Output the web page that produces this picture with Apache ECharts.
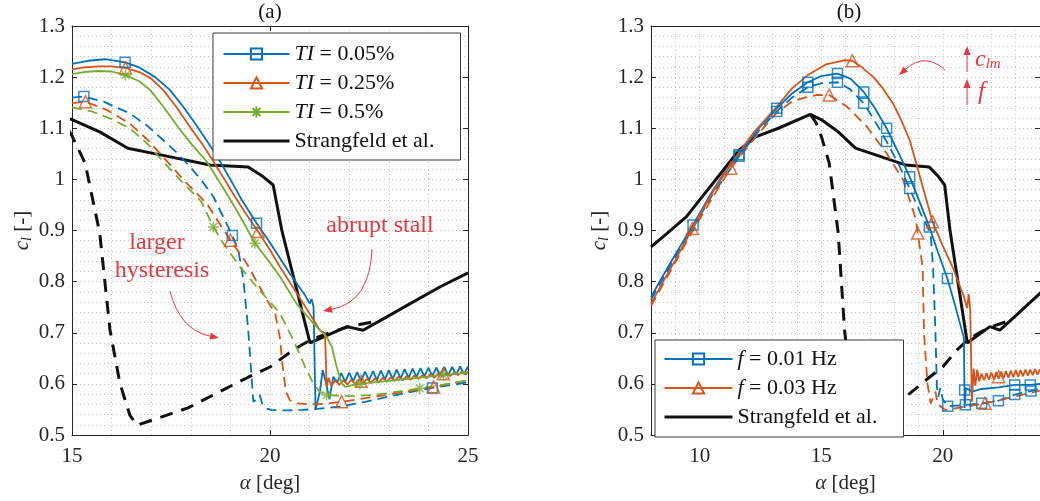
<!DOCTYPE html>
<html><head><meta charset="utf-8">
<script src="https://cdn.jsdelivr.net/npm/echarts@6/dist/echarts.min.js"></script>
<style>html,body{margin:0;padding:0;background:#fff}#c{width:1040px;height:501px}</style>
</head><body><div id="c"></div><script>
// ---------------- DATA ----------------
// axis ranges / ticks
const yRange = [0.5, 1.3], yStep = 0.1;
const xRangeA = [15, 25], xStepA = 5;
const xRangeB = [8, 24], xTicksB = [10, 15, 20];

// Panel (a): TI = 0.05 % (solid = increasing alpha, dashed = decreasing alpha)
const ti005Up = [[15,1.226],[15.4,1.232],[15.84,1.235],[16.34,1.229],[16.7,1.219],[17.1,1.2],[17.47,1.175],[17.8,1.143],[18.15,1.105],[18.45,1.07],[18.74,1.035],[19.0,1.0],[19.3,0.958],[19.66,0.914],[19.95,0.882],[20.2,0.852],[20.5,0.816],[20.88,0.774],[21.0,0.757],[21.05,0.766],[21.1,0.751],[21.15,0.549],[21.26,0.585],[21.33,0.627],[21.42,0.6],[21.5,0.57],[21.6,0.614],
[21.7,0.603],[21.8,0.621],[21.9,0.604],[22.0,0.622],[22.1,0.605],[22.2,0.623],[22.3,0.606],[22.4,0.624],[22.5,0.607],[22.6,0.625],[22.7,0.608],[22.8,0.626],[22.9,0.609],[23.0,0.627],[23.1,0.61],[23.2,0.628],[23.3,0.611],[23.4,0.629],[23.5,0.612],[23.6,0.63],[23.7,0.613],[23.8,0.631],[23.9,0.614],[24.0,0.632],[24.1,0.615],[24.2,0.632],[24.3,0.616],[24.4,0.633],[24.5,0.617],[24.6,0.633],[24.7,0.618],[24.8,0.634],[24.9,0.619],[25.0,0.634]];
const ti005Down = [[15,1.16],[15.3,1.162],[15.8,1.152],[16.46,1.129],[16.9,1.105],[17.3,1.077],[17.65,1.052],[17.98,1.025],[18.3,0.995],[18.57,0.966],[18.9,0.914],[19.05,0.89],[19.2,0.862],[19.33,0.803],[19.45,0.705],[19.54,0.608],[19.58,0.565],[19.66,0.57],[19.74,0.578],[19.8,0.562],[19.9,0.552],[20.04,0.549],[20.4,0.548],[20.8,0.549],[21.2,0.551],[21.8,0.556],[22.4,0.565],[23.0,0.575],[23.6,0.585],[24.1,0.592],[24.6,0.598],[25,0.603]];
// TI = 0.25 %
const ti025Up = [[15,1.215],[15.3,1.219],[15.67,1.221],[16.0,1.221],[16.35,1.218],[16.7,1.21],[17.0,1.197],[17.3,1.175],[17.65,1.14],[18.0,1.1],[18.3,1.068],[18.57,1.035],[18.85,1.0],[19.1,0.968],[19.4,0.932],[19.7,0.898],[20.0,0.862],[20.25,0.829],[20.68,0.777],[21.1,0.725],[21.26,0.705],[21.39,0.699],[21.43,0.594],[21.48,0.612],[21.55,0.596],[21.65,0.607],
[21.75,0.598],[21.85,0.607],[21.95,0.599],[22.05,0.608],[22.15,0.6],[22.25,0.609],[22.35,0.601],[22.45,0.61],[22.55,0.602],[22.65,0.611],[22.75,0.603],[22.85,0.612],[22.95,0.604],[23.05,0.613],[23.15,0.606],[23.25,0.614],[23.35,0.607],[23.45,0.615],[23.55,0.608],[23.65,0.616],[23.75,0.61],[23.85,0.617],[23.95,0.611],[24.05,0.619],[24.15,0.612],[24.25,0.62],[24.35,0.614],[24.45,0.622],[24.55,0.615],[24.65,0.623],[24.75,0.617],[24.85,0.624],[24.95,0.618],[25,0.625]];
const ti025Down = [[15,1.149],[15.34,1.152],[15.9,1.135],[16.46,1.109],[16.9,1.078],[17.3,1.044],[17.6,1.018],[17.9,0.992],[18.4,0.953],[18.78,0.907],[19.0,0.881],[19.41,0.836],[19.92,0.764],[20.13,0.738],[20.25,0.69],[20.32,0.634],[20.4,0.585],[20.5,0.568],[20.68,0.562],[21.0,0.56],[21.4,0.561],[21.81,0.565],[22.5,0.573],[23.3,0.583],[24.13,0.594],[25,0.607]];
// TI = 0.5 %
const ti05Up = [[15,1.206],[15.3,1.21],[15.67,1.212],[16.0,1.211],[16.35,1.204],[16.7,1.192],[16.97,1.175],[17.3,1.143],[17.7,1.1],[18.05,1.066],[18.4,1.035],[18.7,0.998],[19.0,0.96],[19.3,0.92],[19.62,0.875],[19.95,0.842],[20.25,0.81],[20.67,0.757],[21.1,0.718],[21.43,0.692],[21.56,0.673],[21.68,0.634],[21.81,0.601],[21.9,0.594],[22.1,0.598],[22.5,0.602],[23,0.606],[23.5,0.61],[24,0.614],[24.5,0.618],[25,0.622]];
const ti05Down = [[15,1.141],[15.5,1.133],[16.0,1.118],[16.46,1.1],[16.9,1.07],[17.3,1.035],[17.73,0.999],[18.27,0.956],[18.57,0.907],[18.82,0.875],[19.24,0.829],[19.66,0.79],[20.25,0.738],[20.59,0.686],[20.88,0.634],[21.09,0.601],[21.25,0.585],[21.43,0.578],[22.0,0.576],[22.5,0.578],[23.0,0.582],[23.78,0.591],[24.5,0.6],[25,0.607]];
// markers (a)
const mkTi005Up = [[16.34,1.229],[19.66,0.914]];
const mkTi005Down = [[15.3,1.162],[19.05,0.89],[24.1,0.592]];
const mkTi025Up = [[16.35,1.218],[19.7,0.898],[22.3,0.605],[24.38,0.62]];
const mkTi025Down = [[15.34,1.152],[19.0,0.881],[21.81,0.565],[24.13,0.594]];
const mkTi05Up = [[16.35,1.204],[19.62,0.875],[22.27,0.6],[24.38,0.617]];
const mkTi05Down = [[18.57,0.907],[21.43,0.578],[23.78,0.591]];

// Panel (b): f = 0.01 Hz
const f001Up = [[8,0.77],[8.5,0.812],[9.0,0.853],[9.73,0.911],[10.5,0.975],[11.0,1.012],[11.62,1.048],[12.4,1.098],[13.17,1.139],[13.8,1.168],[14.45,1.19],[15.0,1.202],[15.67,1.207],[16.2,1.197],[16.75,1.171],[17.2,1.14],[17.69,1.1],[18.2,1.05],[18.64,1.005],[19.0,0.962],[19.45,0.907],[19.8,0.858],[20.19,0.806],[20.5,0.755],[20.87,0.69],[20.9,0.553],[20.95,0.592],[21.2,0.585],[21.6,0.59],[22.3,0.593],[22.96,0.598],[23.6,0.598],[24,0.6]];
const f001Down = [[8,0.765],[9.0,0.848],[9.73,0.905],[10.5,0.968],[11.62,1.045],[12.4,1.093],[13.17,1.133],[13.8,1.16],[14.45,1.18],[15.0,1.188],[15.67,1.19],[16.2,1.176],[16.75,1.149],[17.2,1.115],[17.69,1.074],[18.2,1.028],[18.64,0.982],[19.1,0.932],[19.5,0.895],[19.6,0.829],[19.7,0.699],[19.76,0.594],[19.82,0.575],[19.9,0.592],[20.0,0.57],[20.2,0.556],[20.93,0.559],[21.6,0.562],[22.29,0.567],[22.96,0.579],[23.63,0.586],[24,0.59]];
// f = 0.03 Hz
const f003Up = [[8,0.757],[8.5,0.8],[9.0,0.842],[9.7,0.904],[10.5,0.972],[11.28,1.03],[12.2,1.09],[13.17,1.142],[13.8,1.178],[14.45,1.204],[15.2,1.225],[15.94,1.233],[16.28,1.232],[16.6,1.222],[17.15,1.2],[17.5,1.18],[17.96,1.148],[18.3,1.115],[18.64,1.077],[19.18,0.985],[19.58,0.917],[20.0,0.87],[20.4,0.829],[20.87,0.771],[21.0,0.748],[21.07,0.775],[21.13,0.745],[21.2,0.565],[21.27,0.63],[21.34,0.596],[21.42,0.628],[21.5,0.605],
[21.6,0.62],[21.7,0.607],[21.8,0.621],[21.9,0.608],[22.0,0.622],[22.1,0.609],[22.2,0.623],[22.3,0.61],[22.4,0.624],[22.5,0.611],[22.6,0.625],[22.7,0.612],[22.8,0.626],[22.9,0.613],[23.0,0.627],[23.1,0.614],[23.2,0.627],[23.3,0.615],[23.4,0.628],[23.5,0.616],[23.6,0.628],[23.7,0.617],[23.8,0.629],[23.9,0.618],[24.0,0.629]];
const f003Down = [[8,0.752],[9.0,0.838],[9.7,0.898],[10.5,0.962],[11.28,1.022],[12.2,1.077],[13.1,1.127],[13.78,1.152],[14.32,1.16],[14.8,1.165],[15.33,1.165],[16.07,1.142],[16.88,1.103],[17.69,1.051],[18.37,0.999],[18.9,0.921],[18.97,0.895],[19.17,0.829],[19.23,0.699],[19.37,0.601],[19.5,0.562],[19.62,0.575],[19.7,0.585],[19.8,0.56],[20.1,0.549],[20.5,0.552],[21.0,0.556],[21.74,0.562],[22.5,0.57],[23.3,0.579],[24,0.587]];
// markers (b)
const mkF001Up = [[9.73,0.911],[11.62,1.048],[13.17,1.139],[14.45,1.19],[15.67,1.207],[16.75,1.171],[17.69,1.1],[18.64,1.005],[19.45,0.907],[20.19,0.806],[20.9,0.588],[22.96,0.598],[23.6,0.598]];
const mkF001Down = [[11.62,1.045],[13.17,1.133],[14.45,1.18],[15.67,1.19],[16.75,1.149],[17.69,1.074],[18.64,0.982],[20.2,0.556],[20.93,0.559],[21.6,0.562],[22.29,0.567],[22.96,0.579],[23.63,0.586]];
const mkF003Up = [[9.7,0.904],[16.28,1.232],[19.58,0.917],[22.3,0.614]];
const mkF003Down = [[11.28,1.022],[15.33,1.165],[18.97,0.895],[21.74,0.562]];

// Strangfeld et al. (both panels)
const strUp = [[8,0.868],[8.65,0.894],[9.46,0.927],[10.0,0.96],[10.54,0.992],[11.62,1.057],[12.3,1.083],[13.24,1.1],[14.55,1.127],[15.0,1.117],[15.7,1.093],[16.41,1.061],[17.3,1.047],[18.48,1.028],[19.45,1.024],[19.83,1.005],[20.08,0.989],[20.2,0.94],[20.3,0.9],[20.72,0.77],[21.01,0.68],[21.5,0.697],[21.94,0.712],[22.35,0.705],[22.95,0.731],[23.54,0.757],[24.3,0.79],[25,0.817]];
const strDown = [[14.55,1.127],[14.8,1.11],[15.0,1.085],[15.33,1.032],[15.7,0.895],[15.96,0.705],[16.21,0.601],[16.46,0.539],[16.64,0.519],[17.93,0.553],[18.66,0.582],[19.45,0.613],[20.0,0.633],[20.58,0.666],[21.0,0.685],[21.5,0.7],[22.0,0.712],[22.58,0.721]];

// ---------------- STYLE ----------------
const FF = 'Liberation Serif';
const AX = '#262626', GC = '#c4c4c4', RED = '#e8383d';
const BLUE = '#0072BD', ORANGE = '#D95319', GREEN = '#77AC30', BLACK = '#111111';
const STAR = 'path://M5,0L5,10M0,5L10,5M1.5,1.5L8.5,8.5M1.5,8.5L8.5,1.5';

function lineS(name, data, color, dashed, p, symbol, width) {
  const w = width || 1.8;
  return {
    type: 'line', name, data, xAxisIndex: p * 2, yAxisIndex: p * 2,
    showSymbol: false, symbol: symbol, symbolSize: 10, animation: false,
    lineStyle: { color, width: w, type: dashed ? (w > 2 ? [13, 9] : [10, 6]) : 'solid' },
    itemStyle: { color: 'rgba(0,0,0,0)', borderColor: color, borderWidth: symbol === 'none' ? 0 : 1.5 },
    emphasis: { disabled: true }, z: 2
  };
}
function mkS(data, color, symbol, p, size) {
  return {
    type: 'scatter', name: 'mk', data, xAxisIndex: p * 2, yAxisIndex: p * 2,
    symbol, symbolSize: size, animation: false, clip: true,
    itemStyle: { color: 'rgba(0,0,0,0)', borderColor: color, borderWidth: 1.5 },
    emphasis: { disabled: true }, z: 3
  };
}
const dotted = { show: true, lineStyle: { color: GC, width: 1, type: [1, 3] } };
const tickIn = { show: true, inside: true, length: 5, lineStyle: { color: AX, width: 1 } };
const axLine = { show: true, onZero: false, lineStyle: { color: AX, width: 1 } };
const lblStyle = { fontFamily: FF, fontSize: 21, color: AX, fontWeight: 'normal' };
const yName = '{i|c}{s|l} [-]';
const nameRich = {
  i: { fontFamily: FF, fontSize: 21, fontStyle: 'italic', color: AX, lineHeight: 24 },
  s: { fontFamily: FF, fontSize: 14, fontStyle: 'italic', color: AX, lineHeight: 14, verticalAlign: 'bottom' }
};

function yAx(g, left, gap) {
  if (left) return {
    gridIndex: g, type: 'value', position: 'left', min: yRange[0], max: yRange[1], interval: yStep,
    axisLine: axLine, axisTick: tickIn, axisLabel: Object.assign({ margin: 7 }, lblStyle),
    splitLine: dotted, minorTick: { show: false, splitNumber: 5 }, minorSplitLine: dotted,
    name: yName, nameLocation: 'middle', nameGap: gap, nameRotate: 90,
    nameTextStyle: { fontFamily: FF, fontSize: 21, color: AX, rich: nameRich }
  };
  return {
    gridIndex: g, type: 'value', position: 'right', min: yRange[0], max: yRange[1], interval: yStep,
    axisLine: axLine, axisTick: tickIn, axisLabel: { show: false }, splitLine: { show: false }
  };
}
const xName = '{i|α} [deg]';
const xNameStyle = { fontFamily: FF, fontSize: 21, color: AX, rich: { i: { fontFamily: FF, fontSize: 21, fontStyle: 'italic', color: AX } } };

const option = {
  backgroundColor: '#fff',
  animation: false,
  textStyle: { fontFamily: FF },
  grid: [
    { left: 72, top: 26, width: 396, height: 409, containLabel: false },
    { left: 651, top: 26, width: 396, height: 409, containLabel: false }
  ],
  xAxis: [
    { gridIndex: 0, type: 'value', position: 'bottom', min: xRangeA[0], max: xRangeA[1], interval: xStepA,
      axisLine: axLine, axisTick: tickIn, axisLabel: Object.assign({ margin: 11 }, lblStyle),
      splitLine: dotted, minorTick: { show: false, splitNumber: 5 }, minorSplitLine: dotted,
      name: xName, nameLocation: 'middle', nameGap: 38, nameTextStyle: xNameStyle },
    { gridIndex: 0, type: 'value', position: 'top', min: xRangeA[0], max: xRangeA[1], interval: xStepA,
      axisLine: axLine, axisTick: tickIn, axisLabel: { show: false }, splitLine: { show: false } },
    { gridIndex: 1, type: 'value', position: 'bottom', min: xRangeB[0], max: xRangeB[1],
      axisLine: axLine, axisTick: Object.assign({ customValues: xTicksB }, tickIn),
      axisLabel: Object.assign({ margin: 11, customValues: xTicksB }, lblStyle),
      splitLine: { show: false },
      name: xName, nameLocation: 'middle', nameGap: 38, nameTextStyle: xNameStyle },
    { gridIndex: 1, type: 'value', position: 'top', min: xRangeB[0], max: xRangeB[1], interval: 1,
      axisLine: axLine, axisTick: { show: false }, axisLabel: { show: false }, splitLine: dotted }
  ],
  yAxis: [ yAx(0, true, 38), yAx(0, false), yAx(1, true, 40), yAx(1, false) ],
  legend: [
    { left: 213, top: 33, orient: 'vertical', selectedMode: false,
      data: [{ name: 'TI = 0.05%' }, { name: 'TI = 0.25%' }, { name: 'TI = 0.5%' }, { name: 'Strangfeld et al.', lineStyle: { width: 3 } }],
      itemWidth: 66, itemHeight: 14, itemGap: 7, padding: [10, 6, 8, 9],
      backgroundColor: '#fff', borderColor: '#3a3a3a', borderWidth: 1, lineStyle: { width: 1.8 },
      textStyle: { fontFamily: FF, fontSize: 22, color: '#111', lineHeight: 20, width: 160,
        rich: { i: { fontFamily: FF, fontSize: 22, fontStyle: 'italic', color: '#111', lineHeight: 20 } } },
      formatter: n => n.indexOf('TI') === 0 ? '{i|TI}' + n.slice(2) : n },
    { left: 655, top: 340, orient: 'vertical', selectedMode: false,
      data: [{ name: 'f = 0.01 Hz' }, { name: 'f = 0.03 Hz' }, { name: 'Strangfeld et al.', lineStyle: { width: 3 } }],
      itemWidth: 68, itemHeight: 14, itemGap: 7, padding: [8, 8, 9, 8],
      backgroundColor: '#fff', borderColor: '#3a3a3a', borderWidth: 1, lineStyle: { width: 1.8 },
      textStyle: { fontFamily: FF, fontSize: 22, color: '#111', lineHeight: 20, width: 158,
        rich: { i: { fontFamily: FF, fontSize: 22, fontStyle: 'italic', color: '#111', lineHeight: 20 } } },
      formatter: n => n.indexOf('f ') === 0 ? '{i|f}' + n.slice(1) : n }
  ],
  series: [
    // panel (a)
    lineS('Strangfeld et al.', strUp, BLACK, false, 0, 'none', 3),
    lineS('Strangfeld dn a', strDown, BLACK, true, 0, 'none', 3),
    lineS('TI = 0.05%', ti005Up, BLUE, false, 0, 'rect'),
    lineS('TI = 0.05% dn', ti005Down, BLUE, true, 0, 'rect'),
    lineS('TI = 0.25%', ti025Up, ORANGE, false, 0, 'triangle'),
    lineS('TI = 0.25% dn', ti025Down, ORANGE, true, 0, 'triangle'),
    lineS('TI = 0.5%', ti05Up, GREEN, false, 0, STAR),
    lineS('TI = 0.5% dn', ti05Down, GREEN, true, 0, STAR),
    mkS(mkTi005Up, BLUE, 'rect', 0, 10), mkS(mkTi005Down, BLUE, 'rect', 0, 10),
    mkS(mkTi025Up, ORANGE, 'triangle', 0, 12), mkS(mkTi025Down, ORANGE, 'triangle', 0, 12),
    mkS(mkTi05Up, GREEN, STAR, 0, 11), mkS(mkTi05Down, GREEN, STAR, 0, 11),
    // panel (b)
    lineS('Strangfeld et al.', strUp, BLACK, false, 1, 'none', 3),
    lineS('Strangfeld dn b', strDown, BLACK, true, 1, 'none', 3),
    lineS('f = 0.01 Hz', f001Up, BLUE, false, 1, 'rect'),
    lineS('f = 0.01 Hz dn', f001Down, BLUE, true, 1, 'rect'),
    lineS('f = 0.03 Hz', f003Up, ORANGE, false, 1, 'triangle'),
    lineS('f = 0.03 Hz dn', f003Down, ORANGE, true, 1, 'triangle'),
    mkS(mkF001Up, BLUE, 'rect', 1, 10), mkS(mkF001Down, BLUE, 'rect', 1, 10),
    mkS(mkF003Up, ORANGE, 'triangle', 1, 12), mkS(mkF003Down, ORANGE, 'triangle', 1, 12)
  ]
};

// annotations
function arrow(x1, y1, cx, cy, x2, y2) {
  const ang = Math.atan2(y2 - cy, x2 - cx), L = 9, W = 3.5;
  const bx = x2 - L * Math.cos(ang), by = y2 - L * Math.sin(ang);
  const px = -Math.sin(ang) * W, py = Math.cos(ang) * W;
  return [
    { type: 'bezierCurve', shape: { x1, y1, x2: bx, y2: by, cpx1: cx, cpy1: cy }, style: { stroke: RED, lineWidth: 1, fill: 'none' }, z: 10 },
    { type: 'polygon', shape: { points: [[x2, y2], [bx + px, by + py], [bx - px, by - py]] }, style: { fill: RED }, z: 10 }
  ];
}
function txt(x, y, text, size, align, italic) {
  return { type: 'text', x, y, z: 10, style: { text, fontFamily: FF, fontSize: size, fill: RED, align: align || 'center', verticalAlign: 'middle', fontStyle: italic ? 'italic' : 'normal' } };
}
option.graphic = [].concat(
  [{ type: 'text', x: 270, y: 12, style: { text: '(a)', fontFamily: FF, fontSize: 21, fill: '#111', align: 'center', verticalAlign: 'middle' } },
   { type: 'text', x: 849, y: 12, style: { text: '(b)', fontFamily: FF, fontSize: 21, fill: '#111', align: 'center', verticalAlign: 'middle' } }],
  [txt(380, 226, 'abrupt stall', 24), txt(157, 243, 'larger', 24), txt(162, 271, 'hysteresis', 24)],
  arrow(372, 249, 370, 302, 323, 311),
  arrow(170, 291, 180, 330, 219, 338),
  arrow(945, 70, 925, 52, 899, 75),
  arrow(967, 72, 967, 60, 967, 46),
  arrow(967, 105, 967, 92, 967, 79),
  [{ type: 'text', x: 975, y: 60, z: 10, style: { text: '{c|c}{s|lm}', fill: RED, align: 'left', verticalAlign: 'middle',
      rich: { c: { fontFamily: FF, fontSize: 24, fontStyle: 'italic', fill: RED, lineHeight: 24, verticalAlign: 'bottom' },
              s: { fontFamily: FF, fontSize: 15, fontStyle: 'italic', fill: RED, lineHeight: 14, verticalAlign: 'bottom' } } } },
   txt(978, 92, 'f', 25, 'left', true)]
);

const chart = echarts.init(document.getElementById('c'));
chart.setOption(option);
</script></body></html>
